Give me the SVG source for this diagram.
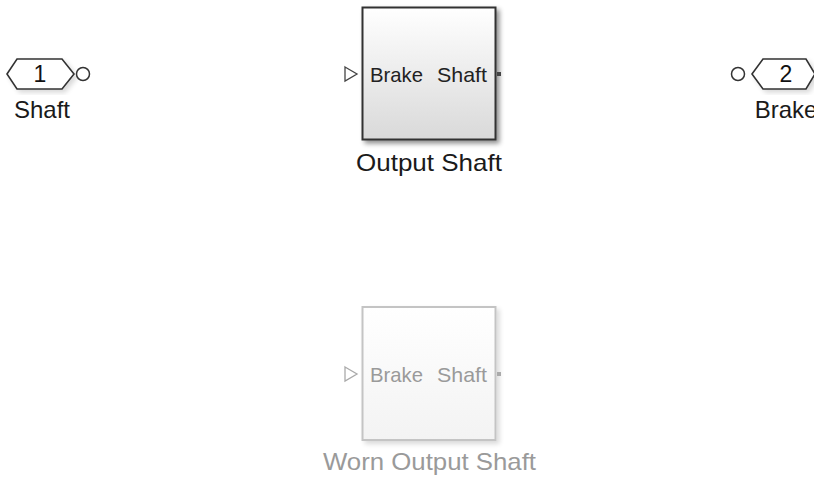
<svg xmlns="http://www.w3.org/2000/svg" width="814" height="477" viewBox="0 0 814 477">
<defs>
<linearGradient id="gBlk" x1="0" y1="0" x2="0" y2="1">
<stop offset="0" stop-color="#ffffff"/>
<stop offset="1" stop-color="#d9d9d9"/>
</linearGradient>
<linearGradient id="gWorn" x1="0" y1="0" x2="0" y2="1">
<stop offset="0" stop-color="#ffffff"/>
<stop offset="1" stop-color="#f3f3f3"/>
</linearGradient>
<filter id="sh" x="-20%" y="-20%" width="140%" height="140%">
<feGaussianBlur in="SourceAlpha" stdDeviation="2.5"/>
<feOffset dx="3" dy="3" result="b"/>
<feComponentTransfer><feFuncA type="linear" slope="0.45"/></feComponentTransfer>
<feMerge><feMergeNode/><feMergeNode in="SourceGraphic"/></feMerge>
</filter>
<filter id="shL" x="-20%" y="-20%" width="140%" height="140%">
<feGaussianBlur in="SourceAlpha" stdDeviation="2.5"/>
<feOffset dx="3" dy="3" result="b"/>
<feComponentTransfer><feFuncA type="linear" slope="0.15"/></feComponentTransfer>
<feMerge><feMergeNode/><feMergeNode in="SourceGraphic"/></feMerge>
</filter>
</defs>
<style>
text{font-family:"Liberation Sans",Arial,sans-serif;}
.lbl{font-size:24px;fill:#1a1a1a;text-anchor:middle;}
.in{font-size:21px;fill:#222;}
.num{font-size:23px;fill:#111;text-anchor:middle;}
.port{fill:#fff;stroke:#333;stroke-width:1.5;}
.worn .lbl{fill:#9a9a9a;}
.worn .in{fill:#9a9a9a;}
</style>
<rect width="814" height="477" fill="#ffffff"/>
<g id="connectors"></g>
<g id="inport1">
<polygon points="7,74 17,59 62,59 74,74 62,89 17,89" fill="#fff" stroke="#333" stroke-width="1.6" filter="url(#shL)"/>
<text class="num" x="40" y="82">1</text>
<circle cx="83" cy="74" r="6.5" class="port"/>
<text class="lbl" x="42" y="118">Shaft</text>
</g>
<g id="outport2">
<circle cx="738" cy="74" r="6.5" class="port"/>
<polygon points="752,74 763,59 806,59 815,74 806,89 763,89" fill="#fff" stroke="#333" stroke-width="1.6" filter="url(#shL)"/>
<text class="num" x="786" y="82">2</text>
<text class="lbl" x="786" y="118">Brake</text>
</g>
<g id="outputShaft">
<rect x="362.5" y="7.5" width="133" height="132" fill="url(#gBlk)" stroke="#333" stroke-width="2" filter="url(#sh)"/>
<polygon points="345,67 357,74 345,81" fill="#fff" stroke="#444" stroke-width="1.3"/>
<rect x="497" y="72" width="4" height="4" fill="#444"/>
<text class="in" x="370" y="82" textLength="53" lengthAdjust="spacingAndGlyphs">Brake</text>
<text class="in" x="437" y="82" textLength="50" lengthAdjust="spacingAndGlyphs">Shaft</text>
<text class="lbl" x="429" y="171" textLength="146" lengthAdjust="spacingAndGlyphs">Output Shaft</text>
</g>
<g id="wornOutputShaft" class="worn">
<rect x="362.5" y="307" width="133" height="133" fill="url(#gWorn)" stroke="#c4c4c4" stroke-width="2" filter="url(#shL)"/>
<polygon points="345,367 357,374 345,381" fill="#fff" stroke="#aaa" stroke-width="1.3"/>
<rect x="497" y="372" width="4" height="4" fill="#aaa"/>
<text class="in" x="370" y="382" textLength="53" lengthAdjust="spacingAndGlyphs">Brake</text>
<text class="in" x="437" y="382" textLength="50" lengthAdjust="spacingAndGlyphs">Shaft</text>
<text class="lbl" x="429.5" y="470" textLength="213" lengthAdjust="spacingAndGlyphs">Worn Output Shaft</text>
</g>
</svg>
